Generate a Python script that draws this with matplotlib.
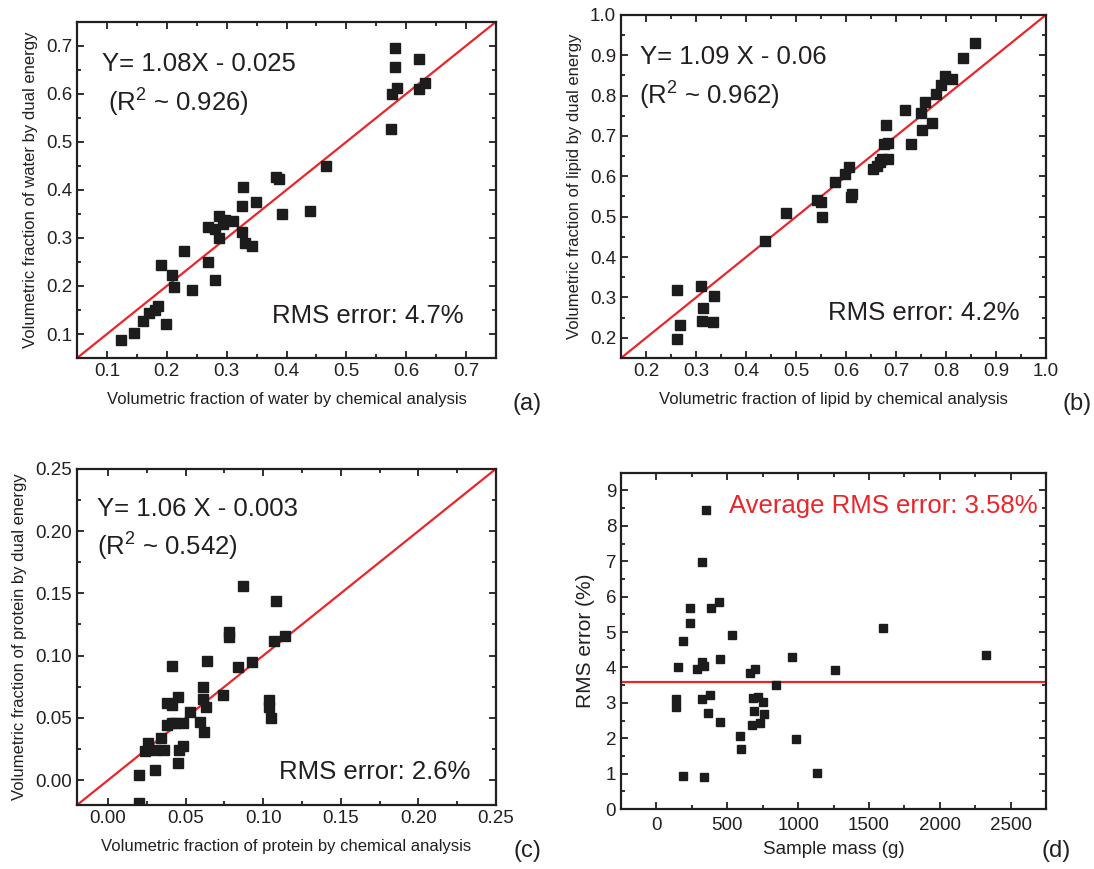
import matplotlib
matplotlib.use('Agg')
import matplotlib.pyplot as plt
from matplotlib.ticker import MultipleLocator

plt.rcParams['font.family'] = ['Liberation Sans', 'DejaVu Sans']
plt.rcParams['mathtext.fontset'] = 'custom'
plt.rcParams['mathtext.rm'] = 'Liberation Sans'
plt.rcParams['mathtext.it'] = 'Liberation Sans:italic'

# --- data ---

# (a) water
water_chem = [0.123, 0.146, 0.161, 0.171, 0.180, 0.185, 0.199, 0.191, 0.209, 0.212,
              0.228, 0.242, 0.268, 0.280, 0.268, 0.281, 0.287, 0.288, 0.294, 0.297,
              0.311, 0.325, 0.328, 0.326, 0.331, 0.342, 0.349, 0.382, 0.388, 0.392,
              0.440, 0.466, 0.575, 0.576, 0.584, 0.581, 0.581, 0.622, 0.622, 0.631]
water_dual = [0.087, 0.102, 0.128, 0.144, 0.151, 0.159, 0.120, 0.243, 0.222, 0.198,
              0.273, 0.191, 0.249, 0.212, 0.323, 0.319, 0.346, 0.299, 0.330, 0.338,
              0.335, 0.366, 0.406, 0.313, 0.290, 0.284, 0.375, 0.427, 0.422, 0.349,
              0.356, 0.450, 0.527, 0.600, 0.613, 0.656, 0.696, 0.673, 0.611, 0.623]

# (b) lipid
lipid_chem = [0.261, 0.267, 0.262, 0.309, 0.314, 0.311, 0.333, 0.335, 0.437, 0.479,
              0.541, 0.549, 0.552, 0.577, 0.597, 0.605, 0.610, 0.612, 0.653, 0.662,
              0.667, 0.671, 0.683, 0.675, 0.683, 0.679, 0.717, 0.729, 0.749, 0.751,
              0.757, 0.771, 0.780, 0.790, 0.797, 0.812, 0.833, 0.857]
lipid_dual = [0.196, 0.231, 0.318, 0.328, 0.274, 0.241, 0.239, 0.303, 0.441, 0.510,
              0.542, 0.537, 0.500, 0.587, 0.606, 0.623, 0.549, 0.557, 0.618, 0.626,
              0.635, 0.643, 0.643, 0.679, 0.683, 0.727, 0.764, 0.679, 0.757, 0.714,
              0.785, 0.731, 0.805, 0.825, 0.848, 0.840, 0.893, 0.930]

# (c) protein
protein_chem = [0.020, 0.020, 0.030, 0.024, 0.026, 0.030, 0.034, 0.036, 0.038, 0.038,
                0.041, 0.041, 0.041, 0.043, 0.045, 0.045, 0.046, 0.048, 0.048, 0.053,
                0.059, 0.062, 0.061, 0.061, 0.063, 0.064, 0.074, 0.078, 0.078, 0.084,
                0.087, 0.093, 0.104, 0.104, 0.105, 0.107, 0.108, 0.114]
protein_dual = [-0.018, 0.004, 0.008, 0.023, 0.030, 0.024, 0.034, 0.024, 0.044, 0.062,
                0.060, 0.092, 0.046, 0.046, 0.067, 0.014, 0.024, 0.027, 0.046, 0.055,
                0.047, 0.039, 0.065, 0.075, 0.059, 0.096, 0.068, 0.115, 0.119, 0.091,
                0.156, 0.095, 0.064, 0.059, 0.050, 0.112, 0.144, 0.116]

# (d) RMS error vs sample mass
mass = [353, 318, 235, 384, 440, 240, 184, 532, 1601, 2328, 958, 447, 153, 322, 334,
        287, 1257, 657, 697, 847, 141, 137, 318, 377, 683, 716, 751, 365, 687, 760,
        447, 673, 732, 593, 596, 984, 186, 334, 1135]
rms_err = [8.46, 6.99, 5.68, 5.68, 5.85, 5.25, 4.75, 4.92, 5.11, 4.35, 4.30, 4.25,
           4.02, 4.15, 4.05, 3.96, 3.92, 3.85, 3.95, 3.51, 3.10, 2.89, 3.11, 3.23,
           3.13, 3.17, 3.03, 2.72, 2.77, 2.68, 2.45, 2.36, 2.44, 2.05, 1.71, 1.97,
           0.93, 0.90, 1.01]
avg_rms = 3.58

RED = '#e8262b'
DARK = '#231f20'
SQ = '#1c1c1c'
BIG = 18.5

fig = plt.figure(figsize=(10.94, 8.69), dpi=100)
ax_a = fig.add_axes([0.0704, 0.588, 0.383, 0.387])
ax_b = fig.add_axes([0.5677, 0.588, 0.3885, 0.395])
ax_c = fig.add_axes([0.0704, 0.0736, 0.383, 0.387])
ax_d = fig.add_axes([0.5677, 0.069, 0.3885, 0.387])


def style(ax, major_x, major_y):
    ax.xaxis.set_major_locator(MultipleLocator(major_x))
    ax.xaxis.set_minor_locator(MultipleLocator(major_x / 2))
    ax.yaxis.set_major_locator(MultipleLocator(major_y))
    ax.yaxis.set_minor_locator(MultipleLocator(major_y / 2))
    ax.tick_params(which='both', direction='in', top=True, right=True,
                   width=1.3, color=DARK, labelcolor=DARK, labelsize=13.5)
    ax.tick_params(which='major', length=5)
    ax.tick_params(which='minor', length=3)
    for s in ax.spines.values():
        s.set_linewidth(1.6)
        s.set_color(DARK)


# (a)
ax_a.plot(water_chem, water_dual, 's', color=SQ, ms=7.5, zorder=3)
ax_a.plot([0.05, 0.75], [0.05, 0.75], color=RED, lw=1.6)
ax_a.set_xlim(0.05, 0.75)
ax_a.set_ylim(0.05, 0.75)
style(ax_a, 0.1, 0.1)
ax_a.set_xlabel('Volumetric fraction of water by chemical analysis', fontsize=12, color=DARK, labelpad=9)
ax_a.set_ylabel('Volumetric fraction of water by dual energy', fontsize=12, color=DARK, labelpad=6)
ax_a.text(0.06, 0.875, 'Y= 1.08X - 0.025', transform=ax_a.transAxes, fontsize=BIG, va='center', color=DARK)
ax_a.text(0.074, 0.76, '(R$^2$ ~ 0.926)', transform=ax_a.transAxes, fontsize=BIG, va='center', color=DARK)
ax_a.text(0.465, 0.125, 'RMS error: 4.7%', transform=ax_a.transAxes, fontsize=BIG, va='center', color=DARK)

# (b)
ax_b.plot(lipid_chem, lipid_dual, 's', color=SQ, ms=7.5, zorder=3)
ax_b.plot([0.15, 1.0], [0.15, 1.0], color=RED, lw=1.6)
ax_b.set_xlim(0.15, 1.0)
ax_b.set_ylim(0.15, 1.0)
style(ax_b, 0.1, 0.1)
ax_b.set_xlabel('Volumetric fraction of lipid by chemical analysis', fontsize=12, color=DARK, labelpad=9)
ax_b.set_ylabel('Volumetric fraction of lipid by dual energy', fontsize=12, color=DARK, labelpad=6)
ax_b.text(0.045, 0.878, 'Y= 1.09 X - 0.06', transform=ax_b.transAxes, fontsize=BIG, va='center', color=DARK)
ax_b.text(0.043, 0.764, '(R$^2$ ~ 0.962)', transform=ax_b.transAxes, fontsize=BIG, va='center', color=DARK)
ax_b.text(0.486, 0.132, 'RMS error: 4.2%', transform=ax_b.transAxes, fontsize=BIG, va='center', color=DARK)

# (c)
ax_c.plot(protein_chem, protein_dual, 's', color=SQ, ms=7.5, zorder=3)
ax_c.plot([-0.02, 0.25], [-0.02, 0.25], color=RED, lw=1.6)
ax_c.set_xlim(-0.02, 0.25)
ax_c.set_ylim(-0.02, 0.25)
style(ax_c, 0.05, 0.05)
ax_c.xaxis.set_major_formatter(lambda v, p: f'{v:.2f}')
ax_c.yaxis.set_major_formatter(lambda v, p: f'{v:.2f}')
ax_c.set_xlabel('Volumetric fraction of protein by chemical analysis', fontsize=12, color=DARK, labelpad=9)
ax_c.set_ylabel('Volumetric fraction of protein by dual energy', fontsize=12, color=DARK, labelpad=6)
ax_c.text(0.047, 0.881, 'Y= 1.06 X - 0.003', transform=ax_c.transAxes, fontsize=BIG, va='center', color=DARK)
ax_c.text(0.047, 0.768, '(R$^2$ ~ 0.542)', transform=ax_c.transAxes, fontsize=BIG, va='center', color=DARK)
ax_c.text(0.482, 0.099, 'RMS error: 2.6%', transform=ax_c.transAxes, fontsize=BIG, va='center', color=DARK)

# (d)
ax_d.plot(mass, rms_err, 's', color=SQ, ms=5.8, zorder=3)
ax_d.axhline(avg_rms, color=RED, lw=1.6)
ax_d.set_xlim(-250, 2750)
ax_d.set_ylim(0, 9.5)
style(ax_d, 500, 1)
ax_d.tick_params(axis='x', pad=6)
ax_d.set_xlabel('Sample mass (g)', fontsize=13.5, color=DARK, labelpad=5)
ax_d.set_ylabel('RMS error (%)', fontsize=15, color=DARK, labelpad=8)
ax_d.text(0.254, 0.9, 'Average RMS error: 3.58%', transform=ax_d.transAxes, fontsize=BIG, va='center', color=RED)

# panel letters
fig.text(527 / 1094, 1 - 404 / 869, '(a)', fontsize=17, ha='center', va='center', color=DARK)
fig.text(1077 / 1094, 1 - 404 / 869, '(b)', fontsize=17, ha='center', va='center', color=DARK)
fig.text(527 / 1094, 1 - 851 / 869, '(c)', fontsize=17, ha='center', va='center', color=DARK)
fig.text(1056 / 1094, 1 - 851 / 869, '(d)', fontsize=17, ha='center', va='center', color=DARK)

fig.savefig('out.png', dpi=100)
